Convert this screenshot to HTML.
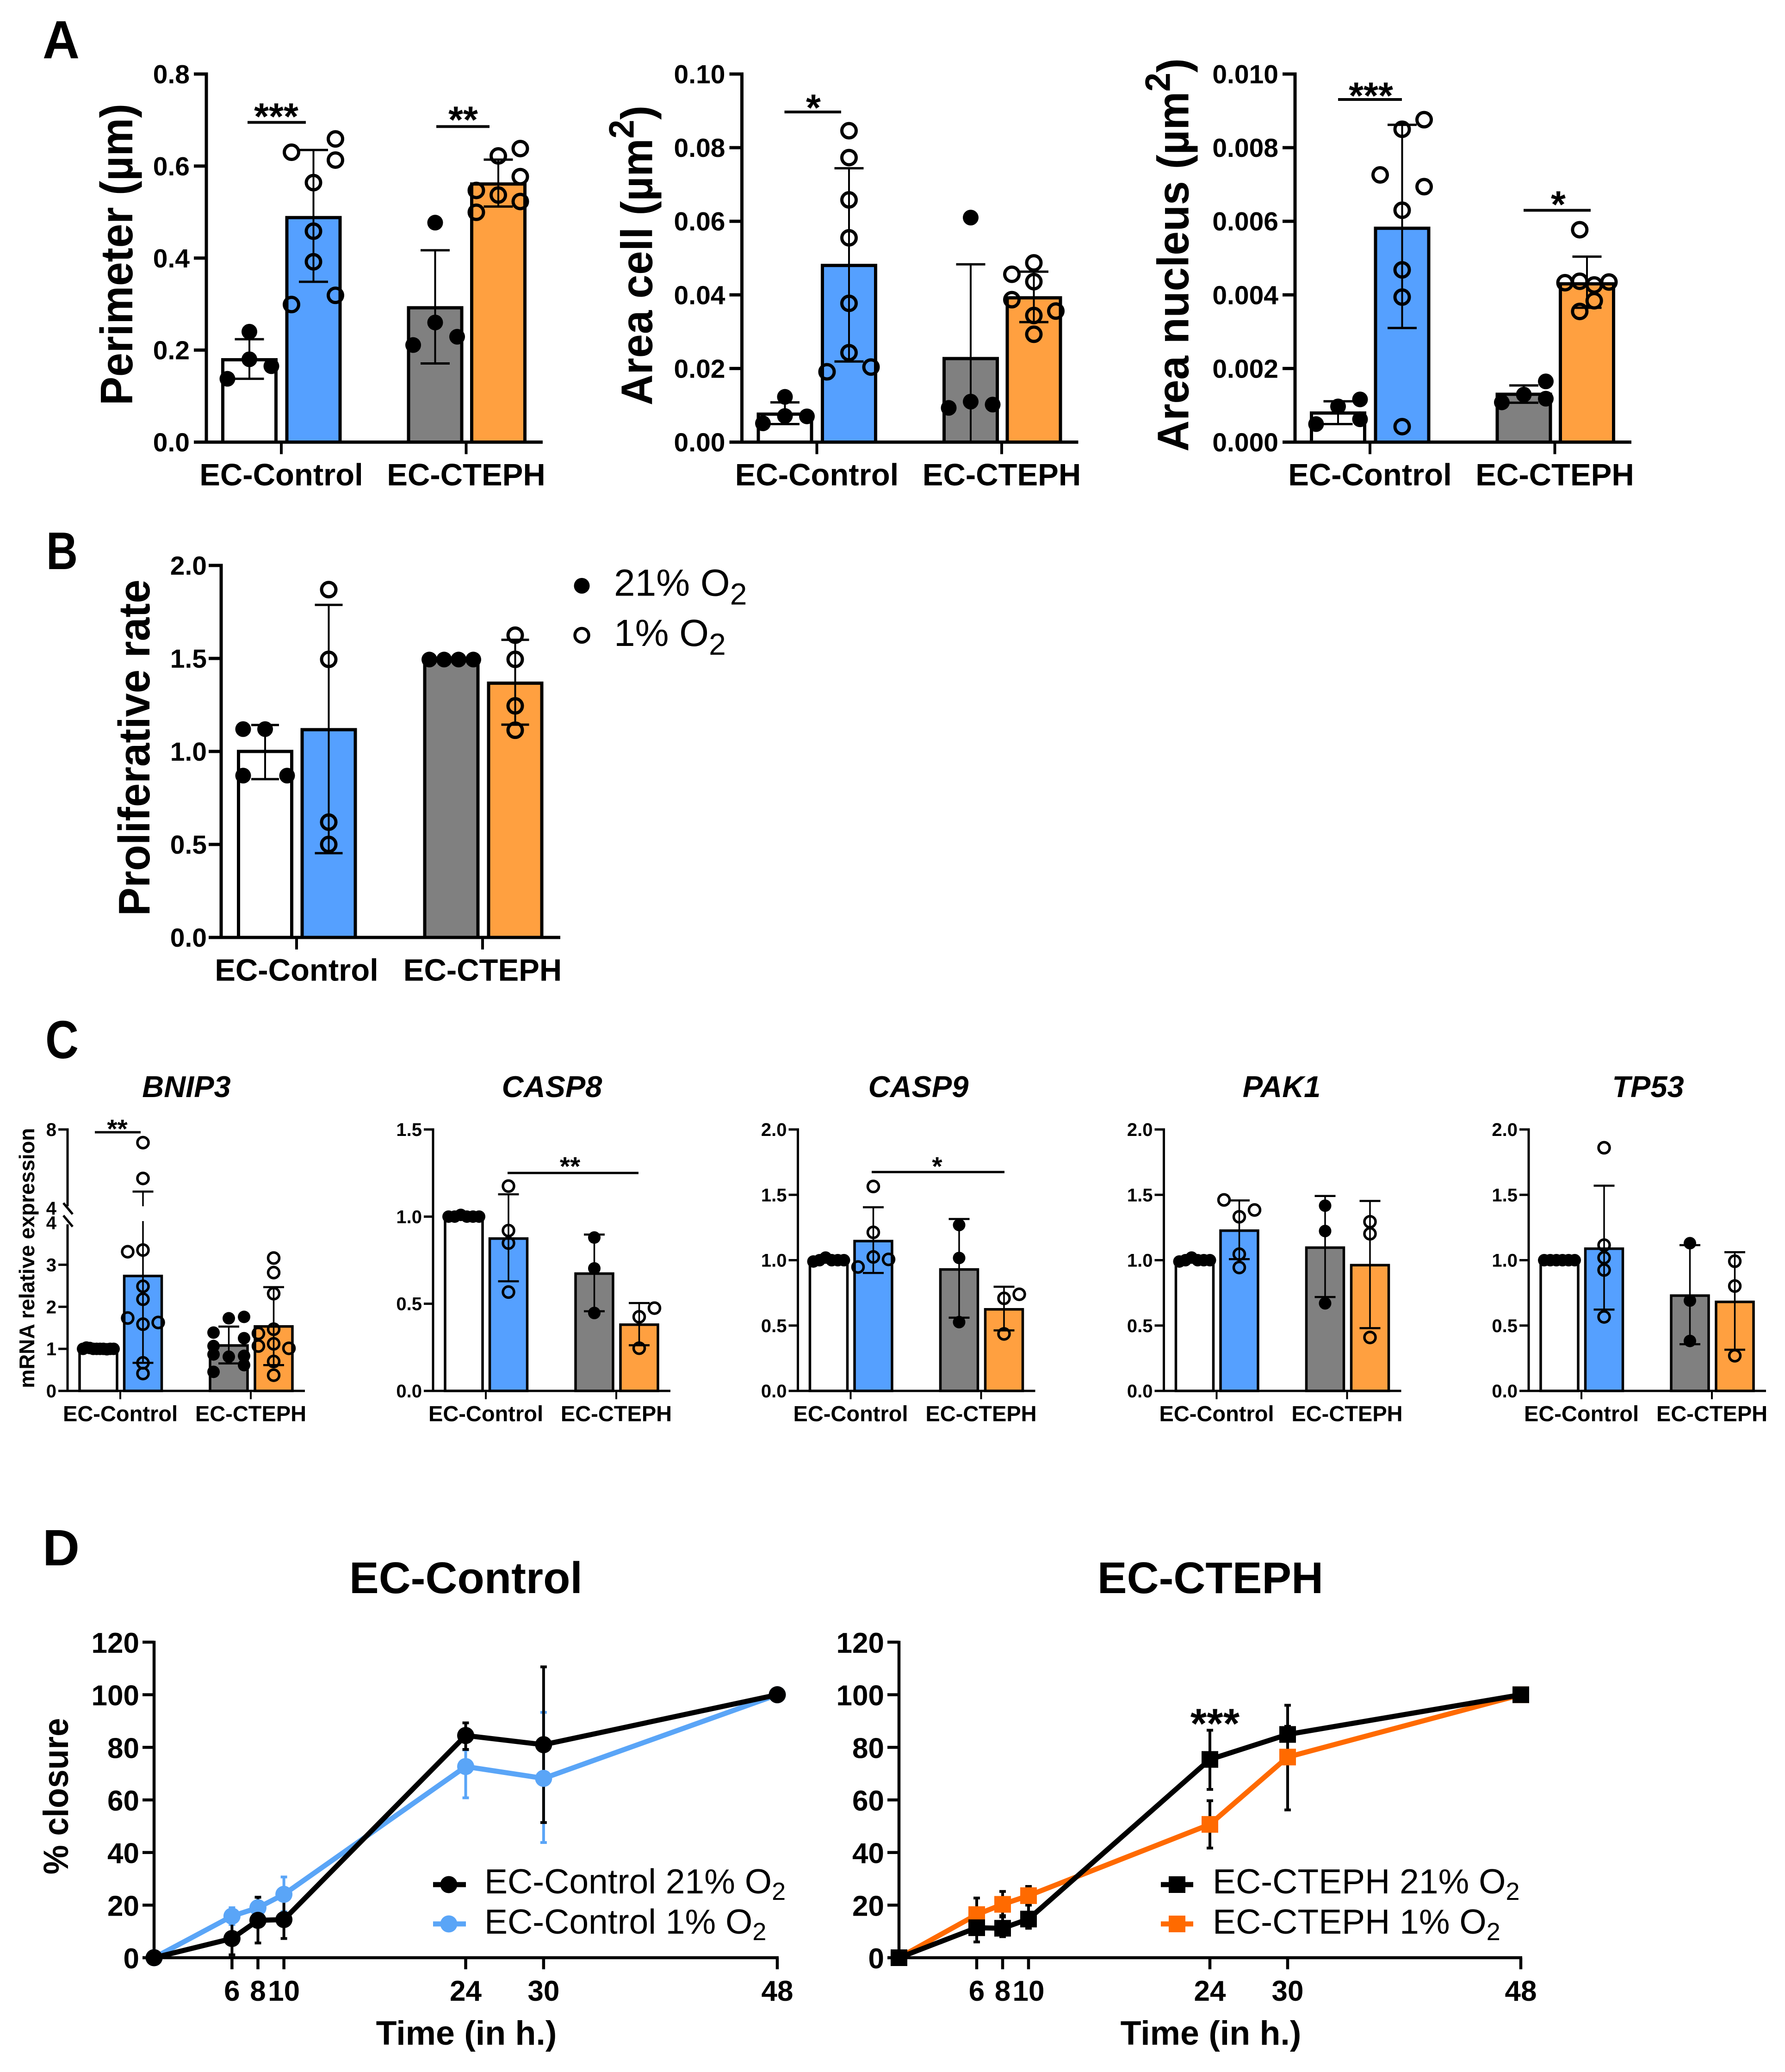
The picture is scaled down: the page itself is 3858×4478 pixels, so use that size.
<!DOCTYPE html>
<html lang="en">
<head>
<meta charset="utf-8">
<title>Endothelial cell morphology, proliferation, expression and closure figure</title>
<style>
html,body{margin:0;padding:0;background:#fff;}
svg{display:block;}
text{font-family:"Liberation Sans",Arial,sans-serif;fill:#000;}
.b{font-weight:700;}
</style>
</head>
<body>
<svg id="figure" xmlns="http://www.w3.org/2000/svg" width="3858" height="4478" viewBox="0 0 3858 4478">
<rect x="0" y="0" width="3858" height="4478" fill="#fff"/>

<text class="b" x="92" y="126" font-size="116" textLength="80" lengthAdjust="spacingAndGlyphs">A</text>
<text class="b" x="100" y="1230" font-size="114" textLength="68" lengthAdjust="spacingAndGlyphs">B</text>
<text class="b" x="98" y="2287" font-size="116" textLength="72" lengthAdjust="spacingAndGlyphs">C</text>
<text class="b" x="92" y="3383" font-size="110" textLength="80" lengthAdjust="spacingAndGlyphs">D</text>

<g id="perimeter-chart"></g>
<g id="area-cell-chart"></g>
<g id="area-nucleus-chart"></g>
<g id="proliferative-chart"></g>
<g id="bnip3-chart"></g>
<g id="casp8-chart"></g>
<g id="casp9-chart"></g>
<g id="pak1-chart"></g>
<g id="tp53-chart"></g>
<g id="closure-control-chart"></g>
<g id="closure-cteph-chart"></g>

<!-- axis titles -->
<text class="b" font-size="98" text-anchor="middle" transform="translate(286 550) rotate(-90)" textLength="652" lengthAdjust="spacingAndGlyphs">Perimeter (µm)</text>
<text class="b" font-size="96" text-anchor="middle" transform="translate(1409.5 552) rotate(-90)" textLength="648" lengthAdjust="spacingAndGlyphs">Area cell (µm<tspan font-size="76" dy="-40">2</tspan><tspan dy="40">)</tspan></text>
<text class="b" font-size="96" text-anchor="middle" transform="translate(2568.5 551) rotate(-90)" textLength="850" lengthAdjust="spacingAndGlyphs">Area nucleus (µm<tspan font-size="76" dy="-40">2</tspan><tspan dy="40">)</tspan></text>
<text class="b" font-size="96" text-anchor="middle" transform="translate(323 1616) rotate(-90)" textLength="727" lengthAdjust="spacingAndGlyphs">Proliferative rate</text>
<text class="b" font-size="46" text-anchor="middle" transform="translate(74 2719) rotate(-90)" textLength="562" lengthAdjust="spacingAndGlyphs">mRNA relative expression</text>
<text class="b" font-size="76" text-anchor="middle" transform="translate(147 3882) rotate(-90)" textLength="338" lengthAdjust="spacingAndGlyphs">% closure</text>

<!-- panel B legend -->
<circle cx="1257.5" cy="1266" r="17" fill="#000"/>
<circle cx="1257.5" cy="1373" r="15" fill="none" stroke="#000" stroke-width="6.5"/>
<text x="1327" y="1287.5" font-size="82">21% O<tspan font-size="66" dy="19">2</tspan></text>
<text x="1327" y="1396" font-size="82">1% O<tspan font-size="66" dy="19">2</tspan></text>

<!-- panel C gene titles -->
<text class="b" font-style="italic" font-size="65" text-anchor="middle" x="403" y="2371">BNIP3</text>
<text class="b" font-style="italic" font-size="65" text-anchor="middle" x="1193" y="2371">CASP8</text>
<text class="b" font-style="italic" font-size="65" text-anchor="middle" x="1985" y="2371">CASP9</text>
<text class="b" font-style="italic" font-size="65" text-anchor="middle" x="2770" y="2371">PAK1</text>
<text class="b" font-style="italic" font-size="65" text-anchor="middle" x="3562" y="2371">TP53</text>

<!-- panel D titles -->
<text class="b" font-size="95.5" text-anchor="middle" x="1007" y="3443">EC-Control</text>
<text class="b" font-size="95.5" text-anchor="middle" x="2616" y="3443">EC-CTEPH</text>
<text class="b" font-size="73.5" text-anchor="middle" x="1008" y="4419">Time (in h.)</text>
<text class="b" font-size="73.5" text-anchor="middle" x="2617" y="4419">Time (in h.)</text>

<!-- panel D legends -->
<g>
<line x1="936" y1="4073" x2="1007" y2="4073" stroke="#000" stroke-width="11"/>
<circle cx="970" cy="4073" r="18.5" fill="#000"/>
<text x="1047" y="4092" font-size="75">EC-Control 21% O<tspan font-size="54" dy="14">2</tspan></text>
</g>
<g>
<line x1="936" y1="4158" x2="1007" y2="4158" stroke="#5AA5F7" stroke-width="11"/>
<circle cx="970" cy="4158" r="18.5" fill="#5AA5F7"/>
<text x="1047" y="4179" font-size="75">EC-Control 1% O<tspan font-size="54" dy="14">2</tspan></text>
</g>
<g>
<line x1="2509" y1="4073" x2="2579" y2="4073" stroke="#000" stroke-width="11"/>
<rect x="2526" y="4055" width="36" height="36" fill="#000"/>
<text x="2621" y="4092" font-size="75">EC-CTEPH 21% O<tspan font-size="54" dy="14">2</tspan></text>
</g>
<g>
<line x1="2509" y1="4158" x2="2579" y2="4158" stroke="#FF6A00" stroke-width="11"/>
<rect x="2526" y="4140" width="36" height="36" fill="#FF6A00"/>
<text x="2621" y="4179" font-size="75">EC-CTEPH 1% O<tspan font-size="54" dy="14">2</tspan></text>
</g>

<!-- significance annotations -->
<g><line x1="535" y1="264.5" x2="661" y2="264.5" stroke="#000" stroke-width="6"/><text class="b" font-size="82" text-anchor="middle" x="597" y="280">***</text></g>
<g><line x1="943" y1="273.5" x2="1058" y2="273.5" stroke="#000" stroke-width="6"/><text class="b" font-size="82" text-anchor="middle" x="1001" y="287">**</text></g>
<g><line x1="1695.5" y1="242" x2="1818" y2="242" stroke="#000" stroke-width="6"/><text class="b" font-size="82" text-anchor="middle" x="1758" y="261">*</text></g>
<g><line x1="2892" y1="215" x2="3030" y2="215" stroke="#000" stroke-width="6"/><text class="b" font-size="82" text-anchor="middle" x="2963" y="235">***</text></g>
<g><line x1="3293" y1="454.5" x2="3438" y2="454.5" stroke="#000" stroke-width="6"/><text class="b" font-size="82" text-anchor="middle" x="3368" y="470">*</text></g>
<g><line x1="205" y1="2447" x2="304" y2="2447" stroke="#000" stroke-width="5"/><text class="b" font-size="57" text-anchor="middle" x="253.5" y="2459">**</text></g>
<g><line x1="1097" y1="2535" x2="1380" y2="2535" stroke="#000" stroke-width="5"/><text class="b" font-size="57" text-anchor="middle" x="1232" y="2540">**</text></g>
<g><line x1="1884" y1="2533" x2="2171" y2="2533" stroke="#000" stroke-width="5"/><text class="b" font-size="57" text-anchor="middle" x="2025.5" y="2540">*</text></g>
<text class="b" font-size="91" text-anchor="middle" x="2626" y="3756">***</text>
</svg>

<script>
// ---------- shared labels ----------
const groupLabels = ['EC-Control', 'EC-CTEPH'];

// ---------- Panel A: perimeter ----------
const perimeterTicks = ['0.0', '0.2', '0.4', '0.6', '0.8'];
const perimeterMeans = [0.179, 0.488, 0.292, 0.561];
const perimeterErrHigh = [0.2236, 0.635, 0.417, 0.614];
const perimeterErrLow = [0.1376, 0.3485, 0.171, 0.512];
const perimeterPoints = [
  [0.24, 0.18, 0.165, 0.1376],
  [0.63, 0.659, 0.613, 0.564, 0.4585, 0.392, 0.319, 0.299],
  [0.477, 0.26, 0.229, 0.211],
  [0.638, 0.622, 0.577, 0.547, 0.537, 0.523, 0.4995]
];
const perimeterColumns = [
  [0, 0, 1, -1],
  [-1, 1, 1, 0, 0, 0, 1, -1],
  [0, 0, 1, -1],
  [1, 0, 1, -1, 0, 1, -1]
];

// ---------- Panel A: area cell ----------
const areaCellTicks = ['0.00', '0.02', '0.04', '0.06', '0.08', '0.10'];
const areaCellMeans = [0.0076, 0.048, 0.0227, 0.0392];
const areaCellErrHigh = [0.0108, 0.0744, 0.0483, 0.0463];
const areaCellErrLow = [0.0049, 0.0219, -0.003, 0.0326];
const areaCellPoints = [
  [0.0123, 0.0071, 0.007, 0.0051],
  [0.0846, 0.0773, 0.0658, 0.0555, 0.0377, 0.0243, 0.0204, 0.0191],
  [0.061, 0.011, 0.0102, 0.0093],
  [0.0487, 0.0456, 0.0436, 0.0387, 0.0344, 0.0356, 0.0293]
];
const areaCellColumns = [
  [0, 0, 1, -1],
  [0, 0, 0, 0, 0, 0, 1, -1],
  [0, 0, 1, -1],
  [0, -1, 0, -1, 0, 1, 0]
];

// ---------- Panel A: area nucleus ----------
const areaNucleusTicks = ['0.000', '0.002', '0.004', '0.006', '0.008', '0.010'];
const areaNucleusMeans = [0.00079, 0.00581, 0.0013, 0.0043];
const areaNucleusErrHigh = [0.00111, 0.00862, 0.00154, 0.00504];
const areaNucleusErrLow = [0.00049, 0.0031, 0.00107, 0.00365];
const areaNucleusPoints = [
  [0.00116, 0.00097, 0.00049, 0.00062],
  [0.00876, 0.0085, 0.00726, 0.00694, 0.0063, 0.00468, 0.00394, 0.00042],
  [0.00165, 0.00129, 0.00118, 0.00108],
  [0.00577, 0.00433, 0.00437, 0.00435, 0.00427, 0.00384, 0.00355]
];
const areaNucleusColumns = [
  [1, 0, -1, 1],
  [1, 0, -1, 1, 0, 0, 0, 0],
  [1, 0, 1, -1],
  [-0.33, -1, -0.33, 1, 0.33, 0.33, -0.33]
];

// ---------- Panel B: proliferative rate ----------
const proliferativeTicks = ['0.0', '0.5', '1.0', '1.5', '2.0'];
const proliferativeMeans = [1.0, 1.117, 1.5, 1.367];
const proliferativeErrHigh = [1.142, 1.788, 1.5, 1.6];
const proliferativeErrLow = [0.851, 0.453, 1.5, 1.144];
const proliferativePoints = [
  [1.12, 1.12, 0.87, 0.87],
  [1.87, 1.495, 0.62, 0.5],
  [1.494, 1.494, 1.494, 1.494],
  [1.625, 1.495, 1.245, 1.114]
];
const proliferativeColumns = [
  [-1, 0, -1, 1],
  [0, 0, 0, 0],
  [-1, -0.33, 0.33, 1],
  [0, 0, 0, 0]
];

// ---------- Panel C: BNIP3 (broken axis) ----------
const bnip3LowerTicks = ['0', '1', '2', '3', '4'];
const bnip3UpperTicks = ['4', '8'];
const bnip3Means = [1.0, 2.733, 1.08, 1.533];
const bnip3ErrHigh = [1.0, 4.84, 1.53, 2.467];
const bnip3ErrLow = [1.0, 0.667, 0.653, 0.613];
const bnip3Points = [
  [1.0, 1.03, 1.02, 1.0, 1.0, 1.0, 1.0, 0.99, 1.0, 1.0],
  [7.33, 5.51, 3.31, 3.35, 2.487, 2.18, 1.733, 1.587, 1.627, 0.667, 0.413],
  [1.727, 1.76, 1.387, 1.253, 1.067, 0.813, 0.833, 0.613, 0.867, 0.453],
  [3.16, 2.813, 2.313, 1.467, 1.367, 1.067, 1.12, 1.013, 0.7, 0.373]
];
const bnip3Columns = [
  [-1, -0.78, -0.56, -0.33, -0.11, 0.11, 0.33, 0.56, 0.78, 1],
  [0, 0, -1, 0, 0, 0, -1, 0, 1, 0, 0],
  [0, 1, -1, 1, -1, 0, 1, 1, -1, -1],
  [0, 0, 0, 0, -1, -1, 0, 1, 0, 0]
];

// ---------- Panel C: CASP8 ----------
const casp8Ticks = ['0.0', '0.5', '1.0', '1.5'];
const casp8Means = [1.0, 0.874, 0.673, 0.38];
const casp8ErrHigh = [1.0, 1.128, 0.897, 0.504];
const casp8ErrLow = [1.0, 0.629, 0.457, 0.262];
const casp8Points = [
  [1.0, 1.0, 1.01, 1.0, 1.0, 1.0],
  [1.175, 0.92, 0.848, 0.567],
  [0.88, 0.703, 0.447],
  [0.475, 0.425, 0.245]
];
const casp8Columns = [
  [-1, -0.6, -0.2, 0.2, 0.6, 1],
  [0, 0, 0, 0],
  [0, 0, 0],
  [1, 0, 0]
];

// ---------- Panel C: CASP9 ----------
const casp9Ticks = ['0.0', '0.5', '1.0', '1.5', '2.0'];
const casp9Means = [1.0, 1.146, 0.929, 0.624];
const casp9ErrHigh = [1.0, 1.405, 1.315, 0.797];
const casp9ErrLow = [1.0, 0.902, 0.56, 0.463];
const casp9Points = [
  [0.99, 1.0, 1.02, 1.0, 1.0, 1.0],
  [1.564, 1.213, 1.025, 1.006, 0.948],
  [1.269, 1.017, 0.526],
  [0.739, 0.708, 0.436]
];
const casp9Columns = [
  [-1, -0.6, -0.2, 0.2, 0.6, 1],
  [0, 0, 0, 1, -1],
  [0, 0, 0],
  [1, 0, 0]
];

// ---------- Panel C: PAK1 ----------
const pak1Ticks = ['0.0', '0.5', '1.0', '1.5', '2.0'];
const pak1Means = [1.0, 1.226, 1.096, 0.962];
const pak1ErrHigh = [1.0, 1.457, 1.491, 1.453];
const pak1ErrLow = [1.0, 1.008, 0.718, 0.48];
const pak1Points = [
  [0.99, 1.0, 1.02, 1.0, 1.0, 1.0],
  [1.461, 1.332, 1.384, 1.046, 0.944],
  [1.417, 1.223, 0.67],
  [1.294, 1.202, 0.409]
];
const pak1Columns = [
  [-1, -0.6, -0.2, 0.2, 0.6, 1],
  [-1, 0, 1, 0, 0],
  [0, 0, 0],
  [0, 0, 0]
];

// ---------- Panel C: TP53 ----------
const tp53Ticks = ['0.0', '0.5', '1.0', '1.5', '2.0'];
const tp53Means = [1.0, 1.088, 0.729, 0.681];
const tp53ErrHigh = [1.0, 1.57, 1.115, 1.061];
const tp53ErrLow = [1.0, 0.622, 0.357, 0.315];
const tp53Points = [
  [1.0, 1.0, 1.0, 1.0, 1.0, 1.0],
  [1.86, 1.115, 1.019, 0.925, 0.566],
  [1.13, 0.691, 0.382],
  [0.992, 0.802, 0.269]
];
const tp53Columns = [
  [-1, -0.6, -0.2, 0.2, 0.6, 1],
  [0, 0, 0, 0, 0],
  [0, 0, 0],
  [0, 0, 0]
];

// ---------- Panel D: wound closure ----------
const closureTimes = [0, 6, 8, 10, 24, 30, 48];
const closureYTicks = ['0', '20', '40', '60', '80', '100', '120'];
const closureXTicks = ['6', '8', '10', '24', '30', '48'];
const control21 = [0, 7.3, 14.2, 14.5, 84.5, 81, 100];
const control21High = [null, 13.5, 23, 22.5, 89.3, 110.6, null];
const control21Low = [null, 1.1, 5.6, 7.3, 79.2, 51.4, null];
const control1 = [0, 15.8, 19, 24.1, 72.7, 68.2, 100];
const control1High = [null, 19, 23, 30.7, 79, 93.3, null];
const control1Low = [null, 12.6, 15, 17.5, 60.8, 43.8, null];
const cteph21 = [0, 11.4, 11.2, 14.7, 75.4, 84.9, 100];
const cteph21High = [null, 17, 16, 22, 86.5, 96, null];
const cteph21Low = [null, 6, 8, 11.2, 64, 75, null];
const cteph1 = [0, 16.4, 20.3, 23.6, 50.7, 76.3, 100];
const cteph1High = [null, 22.7, 25.2, 27.1, 59.7, 88, null];
const cteph1Low = [null, 10.5, 15.5, 20, 41.7, 56.2, null];

// ---------- layout ----------
const BAR_FILLS = ['#ffffff', '#55A0FF', '#808080', '#FFA040'];
const layoutA = {top: 160, bottom: 955.5, centers: [93, 231.5, 494.5, 631], groupTicks: [162, 561.5], xEnd: 727,
  tickLen: 27, xTickLen: 26, barW: 115, barStroke: 7, axisW: 7, slot: 47.5, capW: 63, errW: 4, dotR: 17, ringR: 15.5, ringW: 7,
  tickFs: 57, labelFs: 67, labelDy: 93.5, tickGap: 36, tickDy: 20};
const layoutB = Object.assign({}, layoutA, {top: 1222, bottom: 2026, centers: [95, 232.5, 497.5, 635.5], groupTicks: [163, 565], xEnd: 733,
  capW: 60, tickGap: 31, tickDy: 20});
const layoutC = {top: 2441, bottom: 3006, centers: [66.5, 163, 348.5, 445.5], groupTicks: [114, 396], xEnd: 513,
  tickLen: 20, xTickLen: 18, barW: 81, barStroke: 5.5, axisW: 5, slot: 33, capW: 45, errW: 3.5, dotR: 13.5, ringR: 12, ringW: 5.5,
  tickFs: 40, labelFs: 47, labelDy: 65.5, tickGap: 24, tickDy: 14};

const NS = 'http://www.w3.org/2000/svg';
function add(parent, tag, attrs) {
  const el = document.createElementNS(NS, tag);
  for (const k in attrs) el.setAttribute(k, attrs[k]);
  parent.appendChild(el);
  return el;
}
function linearY(min, max, top, bottom) {
  return v => bottom - (v - min) / (max - min) * (bottom - top);
}

function drawYTick(g, L, ax, y, label, drawMark) {
  if (drawMark) {
    const t = add(g, 'line', {x1: ax - L.tickLen, x2: ax, y1: y, y2: y, stroke: '#000', 'stroke-width': L.axisW});
    
    
  }
  const txt = add(g, 'text', {x: ax - L.tickGap, y: y + L.tickDy, 'text-anchor': 'end', 'font-size': L.tickFs, 'font-weight': 700});
  txt.textContent = label;
  
  
}

function drawBars(g, L, ax, yOf, means) {
  means.forEach((m, i) => {
    const cx = ax + L.centers[i];
    const bar = add(g, 'rect', {x: cx - L.barW / 2, y: yOf(m), width: L.barW, height: L.bottom - yOf(m),
      fill: BAR_FILLS[i], stroke: '#000', 'stroke-width': L.barStroke});
    
    
  });
}

function drawStem(g, L, cx, y1, y2) {
  const stem = add(g, 'line', {x1: cx, x2: cx, y1: y1, y2: y2, stroke: '#000', 'stroke-width': L.errW});
  
  
}

function drawErrors(g, L, ax, yOf, hi, lo, gap) {
  hi.forEach((h, i) => {
    if (h === lo[i]) return;
    const cx = ax + L.centers[i];
    const yHi = yOf(h);
    const yLo = lo[i] < 0 ? L.bottom : yOf(lo[i]);
    if (gap && yHi < gap[0] && yLo > gap[1]) {
      drawStem(g, L, cx, yHi, gap[0]);
      drawStem(g, L, cx, gap[1], yLo);
    } else {
      drawStem(g, L, cx, yHi, yLo);
    }
    const capTop = add(g, 'line', {x1: cx - L.capW / 2, x2: cx + L.capW / 2, y1: yHi, y2: yHi, stroke: '#000', 'stroke-width': L.errW + 1});
    
    
    if (lo[i] >= 0) {
      const capLow = add(g, 'line', {x1: cx - L.capW / 2, x2: cx + L.capW / 2, y1: yLo, y2: yLo, stroke: '#000', 'stroke-width': L.errW + 1});
      
      
    }
  });
}

function drawPoints(g, L, ax, yOf, points, columns) {
  points.forEach((vals, i) => {
    const open = i === 1 || i === 3;
    vals.forEach((v, j) => {
      const cx = ax + L.centers[i] + columns[i][j] * L.slot;
      const dot = add(g, 'circle', {cx: cx, cy: yOf(v), r: open ? L.ringR : L.dotR,
        fill: open ? 'none' : '#000', stroke: open ? '#000' : 'none', 'stroke-width': open ? L.ringW : 0});
      
      
    });
  });
}

function drawXAxis(g, L, ax) {
  const axisLine = add(g, 'line', {x1: ax - L.tickLen, x2: ax + L.xEnd, y1: L.bottom, y2: L.bottom, stroke: '#000', 'stroke-width': L.axisW});
  
  
  groupLabels.forEach((label, i) => {
    const x = ax + L.groupTicks[i];
    const t = add(g, 'line', {x1: x, x2: x, y1: L.bottom, y2: L.bottom + L.xTickLen, stroke: '#000', 'stroke-width': L.axisW - 1});
    
    
    const txt = add(g, 'text', {x: x, y: L.bottom + L.labelDy, 'text-anchor': 'middle', 'font-size': L.labelFs, 'font-weight': 700});
    txt.textContent = label;
    
    
  });
}

function drawBarChart(id, L, ax, ticks, means, hi, lo, points, columns) {
  const g = document.getElementById(id);
  const nums = ticks.map(Number);
  const yOf = linearY(nums[0], nums[nums.length - 1], L.top, L.bottom);
  drawBars(g, L, ax, yOf, means);
  drawErrors(g, L, ax, yOf, hi, lo, null);
  drawPoints(g, L, ax, yOf, points, columns);
  const yAxis = add(g, 'line', {x1: ax, x2: ax, y1: L.top - L.axisW / 2, y2: L.bottom, stroke: '#000', 'stroke-width': L.axisW});
  
  
  ticks.forEach(label => drawYTick(g, L, ax, yOf(Number(label)), label, true));
  drawXAxis(g, L, ax);
}

function drawBrokenBarChart(id, L, ax) {
  const g = document.getElementById(id);
  const splitLowerY = 2642.5;
  const splitUpperY = 2611;
  const lowerMax = Number(bnip3LowerTicks[bnip3LowerTicks.length - 1]);
  const upperMax = Number(bnip3UpperTicks[bnip3UpperTicks.length - 1]);
  const lowerY = linearY(0, lowerMax, splitLowerY, L.bottom);
  const upperY = linearY(lowerMax, upperMax, L.top, splitUpperY);
  const yOf = v => (v <= lowerMax ? lowerY(v) : upperY(v));
  const gap = [2607, 2639];
  drawBars(g, L, ax, yOf, bnip3Means);
  drawErrors(g, L, ax, yOf, bnip3ErrHigh, bnip3ErrLow, gap);
  drawPoints(g, L, ax, yOf, bnip3Points, bnip3Columns);
  const axisUpper = add(g, 'line', {x1: ax, x2: ax, y1: L.top - 2.5, y2: 2607, stroke: '#000', 'stroke-width': L.axisW});
  
  
  const axisLower = add(g, 'line', {x1: ax, x2: ax, y1: 2646, y2: L.bottom, stroke: '#000', 'stroke-width': L.axisW});
  
  
  [2600, 2627].forEach(y0 => {
    const slash = add(g, 'line', {x1: ax - 9, y1: y0, x2: ax + 11, y2: y0 + 24, stroke: '#000', 'stroke-width': L.axisW});
    
    
  });
  bnip3LowerTicks.forEach(label => drawYTick(g, L, ax, lowerY(Number(label)), label, Number(label) !== lowerMax));
  bnip3UpperTicks.forEach(label => drawYTick(g, L, ax, upperY(Number(label)), label, Number(label) !== lowerMax));
  drawXAxis(g, L, ax);
}

drawBarChart('perimeter-chart', layoutA, 446, perimeterTicks, perimeterMeans, perimeterErrHigh, perimeterErrLow, perimeterPoints, perimeterColumns);
drawBarChart('area-cell-chart', layoutA, 1603.5, areaCellTicks, areaCellMeans, areaCellErrHigh, areaCellErrLow, areaCellPoints, areaCellColumns);
drawBarChart('area-nucleus-chart', layoutA, 2799, areaNucleusTicks, areaNucleusMeans, areaNucleusErrHigh, areaNucleusErrLow, areaNucleusPoints, areaNucleusColumns);
drawBarChart('proliferative-chart', layoutB, 478, proliferativeTicks, proliferativeMeans, proliferativeErrHigh, proliferativeErrLow, proliferativePoints, proliferativeColumns);
drawBrokenBarChart('bnip3-chart', layoutC, 146);
drawBarChart('casp8-chart', layoutC, 936, casp8Ticks, casp8Means, casp8ErrHigh, casp8ErrLow, casp8Points, casp8Columns);
drawBarChart('casp9-chart', layoutC, 1724.5, casp9Ticks, casp9Means, casp9ErrHigh, casp9ErrLow, casp9Points, casp9Columns);
drawBarChart('pak1-chart', layoutC, 2515.5, pak1Ticks, pak1Means, pak1ErrHigh, pak1ErrLow, pak1Points, pak1Columns);
drawBarChart('tp53-chart', layoutC, 3304, tp53Ticks, tp53Means, tp53ErrHigh, tp53ErrLow, tp53Points, tp53Columns);

// ---------- line charts ----------
function drawLineChart(id, x0, xEnd, series) {
  const g = document.getElementById(id);
  const top = 3549, bottom = 4231;
  const yNums = closureYTicks.map(Number);
  const yOf = linearY(yNums[0], yNums[yNums.length - 1], top, bottom);
  const maxTime = closureTimes[closureTimes.length - 1];
  const xOf = t => x0 + t / maxTime * (xEnd - x0);

  series.forEach(s => {
    s.values.forEach((v, i) => {
      if (s.high[i] === null) return;
      const x = xOf(closureTimes[i]);
      const stem = add(g, 'line', {x1: x, x2: x, y1: yOf(s.high[i]), y2: yOf(s.low[i]), stroke: s.errColor, 'stroke-width': 6});
      
      
      [s.high[i], s.low[i]].forEach(e => {
        const cap = add(g, 'line', {x1: x - 7, x2: x + 7, y1: yOf(e), y2: yOf(e), stroke: s.errColor, 'stroke-width': 6});
        
        
      });
    });
  });

  const axisY = add(g, 'line', {x1: x0, x2: x0, y1: top - 3, y2: bottom, stroke: '#000', 'stroke-width': 6.5});
  
  
  const axisX = add(g, 'line', {x1: x0 - 25, x2: xEnd + 3, y1: bottom, y2: bottom, stroke: '#000', 'stroke-width': 6.5});
  
  

  closureYTicks.forEach(label => {
    const y = yOf(Number(label));
    const t = add(g, 'line', {x1: x0 - 25, x2: x0, y1: y, y2: y, stroke: '#000', 'stroke-width': 6.5});
    
    
    const txt = add(g, 'text', {x: x0 - 32, y: y + 23, 'text-anchor': 'end', 'font-size': 62, 'font-weight': 700});
    txt.textContent = label;
    
    
  });
  closureXTicks.forEach(label => {
    const x = xOf(Number(label));
    const t = add(g, 'line', {x1: x, x2: x, y1: bottom, y2: bottom + 25, stroke: '#000', 'stroke-width': 6.5});
    
    
    const txt = add(g, 'text', {x: x, y: 4324, 'text-anchor': 'middle', 'font-size': 62, 'font-weight': 700});
    txt.textContent = label;
    
    
  });

  series.forEach(s => {
    const pts = s.values.map((v, i) => xOf(closureTimes[i]) + ',' + yOf(v)).join(' ');
    const line = add(g, 'polyline', {points: pts, fill: 'none', stroke: s.color, 'stroke-width': 11, 'stroke-linejoin': 'round'});
    
    
    s.values.forEach((v, i) => {
      const x = xOf(closureTimes[i]);
      const y = yOf(v);
      const mark = s.square
        ? add(g, 'rect', {x: x - 18, y: y - 18, width: 36, height: 36, fill: s.color})
        : add(g, 'circle', {cx: x, cy: y, r: 18.5, fill: s.color});
      
      
    });
  });
}

drawLineChart('closure-control-chart', 333, 1680, [
  {values: control1, high: control1High, low: control1Low, color: '#5AA5F7', errColor: '#5AA5F7', square: false},
  {values: control21, high: control21High, low: control21Low, color: '#000', errColor: '#000', square: false}
]);
drawLineChart('closure-cteph-chart', 1943, 3287, [
  {values: cteph1, high: cteph1High, low: cteph1Low, color: '#FF6A00', errColor: '#000', square: true},
  {values: cteph21, high: cteph21High, low: cteph21Low, color: '#000', errColor: '#000', square: true}
]);
</script>
</body>
</html>
